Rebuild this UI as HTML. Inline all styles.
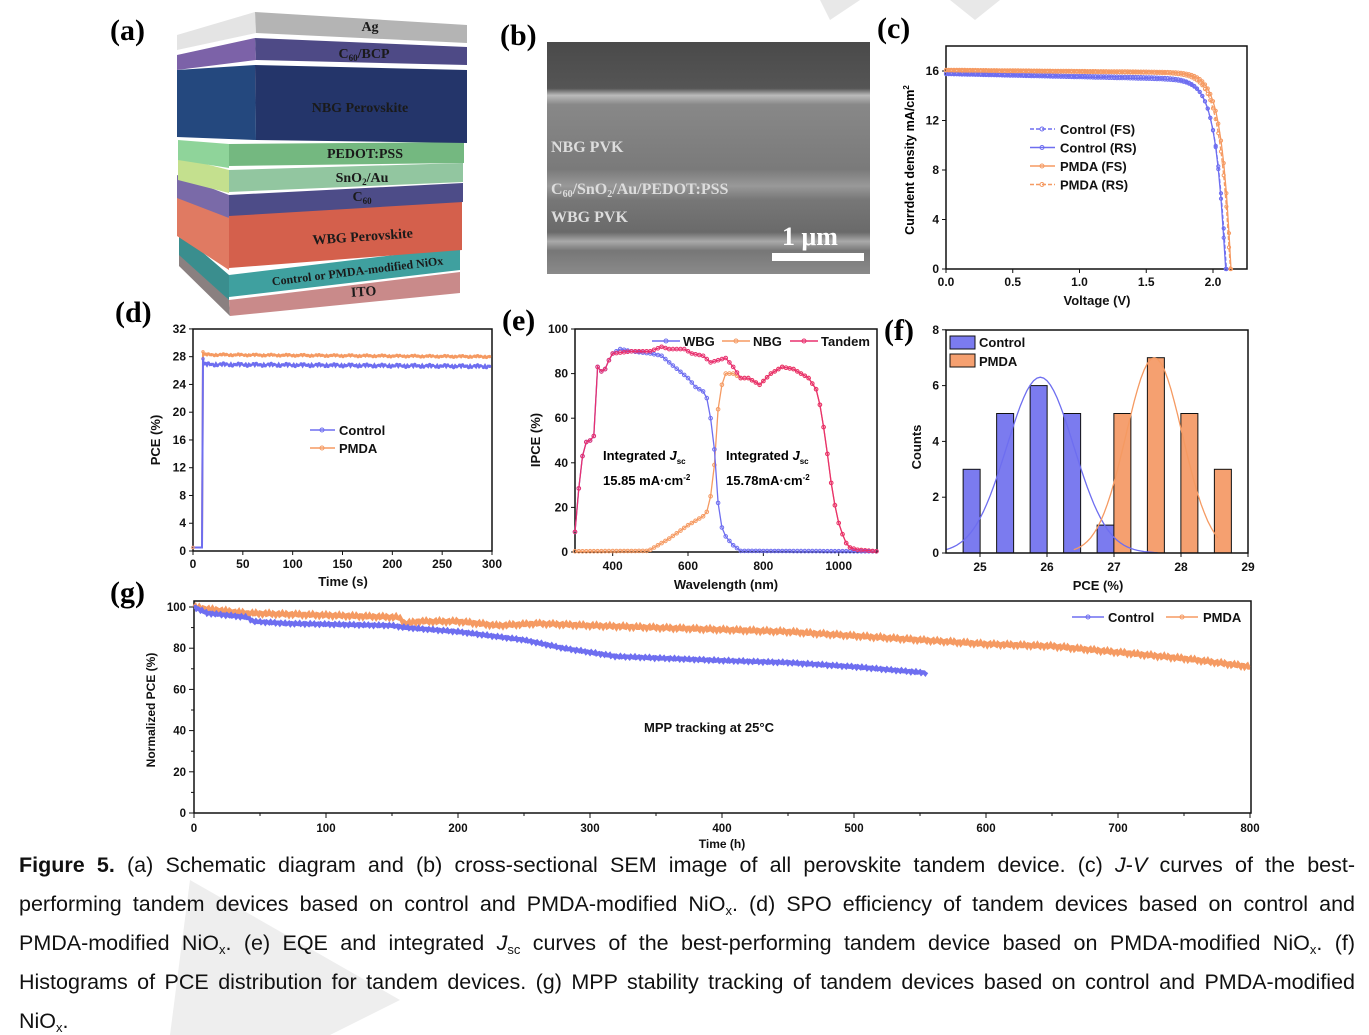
<!DOCTYPE html>
<html><head><meta charset="utf-8">
<style>
html,body{margin:0;padding:0;background:#fff;}
#wrap{position:relative;width:1369px;height:1035px;overflow:hidden;}
svg{position:absolute;left:0;top:0;}
.sans{font-family:"Liberation Sans",Arial,sans-serif;}
.serif{font-family:"Liberation Serif","Times New Roman",serif;}
.cap{position:absolute;left:19px;width:1336px;top:846px;font-family:"Liberation Sans",Arial,sans-serif;font-size:21.5px;color:#111;}
.cap div{height:39px;line-height:39px;text-align:justify;text-align-last:justify;white-space:nowrap;}
.cap div.last{text-align-last:left;}
.cap sub{font-size:13px;line-height:0;vertical-align:-4px;}
</style></head>
<body><div id="wrap">
<svg id="s" width="1369" height="1035" viewBox="0 0 1369 1035" xmlns="http://www.w3.org/2000/svg">
<polygon points="820,0 860,0 830,20" fill="#e8e8e8"/>
<polygon points="950,0 1000,0 975,20" fill="#e8e8e8"/>
<polygon points="190,880 400,1000 330,1035 170,1035" fill="#eeeeee"/>
<g class="serif" font-weight="bold">
<text class="serif" x="110" y="40" font-size="30">(a)</text>
<polygon points="179,250 229,300 230,316 179,266" fill="#8a8080"/>
<polygon points="229,300 460,272 460,293 230,316" fill="#c98a8a"/>
<polygon points="179,232 229,275 229,300 179,255" fill="#3a8e8e"/>
<polygon points="229,275 460,247 460,270 229,297" fill="#3fa09f"/>
<polygon points="177,190 229,218 229,270 177,236" fill="#e07a62"/>
<polygon points="229,206 462,201 462,250 229,268" fill="#d4604c"/>
<polygon points="177,175 229,195 229,218 177,198" fill="#7a6aa8"/>
<polygon points="229,195 463,183 463,202 229,216" fill="#4d4c88"/>
<polygon points="178,157 229,170 229,193 178,180" fill="#c4e08e"/>
<polygon points="229,170 463,163 463,182 229,192" fill="#92c6a0"/>
<polygon points="178,140 229,144 229,168 178,160" fill="#8fd49a"/>
<polygon points="229,144 464,142 464,163 229,166" fill="#74b880"/>
<polygon points="177,70 255,65 256,140 177,137" fill="#24487e"/>
<polygon points="255,65 467,70 467,143 256,140" fill="#24356a"/>
<polygon points="177,55 255,38 256,60 177,70" fill="#7c62a8"/>
<polygon points="255,38 467,47 467,65 256,60" fill="#4e4a86"/>
<polygon points="177,35 255,12 256,33 177,50" fill="#e4e4e4"/>
<polygon points="255,12 467,25 467,43 256,33" fill="#b4b4b4"/>
<g fill="#1a1a1a" text-anchor="middle">
<text class="serif" x="370" y="31" font-size="14">Ag</text>
<text class="serif" x="364" y="58" font-size="14">C<tspan font-size="9" dy="3">60</tspan><tspan dy="-3">/BCP</tspan></text>
<text class="serif" x="360" y="112" font-size="14">NBG Perovskite</text>
<text class="serif" x="365" y="158" font-size="14">PEDOT:PSS</text>
<text class="serif" x="362" y="182" font-size="14">SnO<tspan font-size="9" dy="3">2</tspan><tspan dy="-3">/Au</tspan></text>
<text class="serif" x="362" y="201" font-size="14">C<tspan font-size="9" dy="3">60</tspan></text>
<text class="serif" x="363" y="241" font-size="14" transform="rotate(-4 363 241)">WBG Perovskite</text>
<text class="serif" x="358" y="275" font-size="12" transform="rotate(-7 358 275)">Control or PMDA-modified NiOx</text>
<text class="serif" x="364" y="296" font-size="14" transform="rotate(-4 364 296)">ITO</text>
</g>
<text class="serif" x="500" y="45" font-size="30">(b)</text>
<text class="serif" x="877" y="38" font-size="30">(c)</text>
<text class="serif" x="115" y="322" font-size="30">(d)</text>
<text class="serif" x="502" y="330" font-size="30">(e)</text>
<text class="serif" x="884" y="340" font-size="30">(f)</text>
<text class="serif" x="110" y="602" font-size="30">(g)</text>
</g>
<defs>
<linearGradient id="sem" x1="0" y1="0" x2="0" y2="1">
<stop offset="0" stop-color="#4a4a4a"/><stop offset="0.2" stop-color="#555"/>
<stop offset="0.23" stop-color="#bbb"/><stop offset="0.27" stop-color="#888"/>
<stop offset="0.55" stop-color="#7a7a7a"/><stop offset="0.62" stop-color="#999"/>
<stop offset="0.68" stop-color="#777"/><stop offset="0.82" stop-color="#6a6a6a"/>
<stop offset="0.86" stop-color="#aaa"/><stop offset="0.9" stop-color="#777"/><stop offset="1" stop-color="#8a8a8a"/>
</linearGradient>
</defs>
<rect x="547" y="42" width="323" height="232" fill="url(#sem)"/>
<g font-weight="bold" fill="#ddd" font-size="16">
<text class="serif" x="551" y="152">NBG PVK</text>
<text class="serif" x="551" y="194">C<tspan font-size="10" dy="3">60</tspan><tspan dy="-3">/SnO</tspan><tspan font-size="10" dy="3">2</tspan><tspan dy="-3">/Au/PEDOT:PSS</tspan></text>
<text class="serif" x="551" y="222">WBG PVK</text>
<text class="serif" x="782" y="245" font-size="26" fill="#fff">1 μm</text>
</g>
<rect x="772" y="253" width="92" height="8" fill="#fff"/>
<g id="plots"></g>
</svg>
<div class="cap">
<div><b>Figure 5.</b> (a) Schematic diagram and (b) cross-sectional SEM image of all perovskite tandem device. (c) <i>J</i>-<i>V</i> curves of the best-</div>
<div>performing tandem devices based on control and PMDA-modified NiO<sub>x</sub>. (d) SPO efficiency of tandem devices based on control and</div>
<div>PMDA-modified NiO<sub>x</sub>. (e) EQE and integrated <i>J</i><sub>sc</sub> curves of the best-performing tandem device based on PMDA-modified NiO<sub>x</sub>. (f)</div>
<div>Histograms of PCE distribution for tandem devices. (g) MPP stability tracking of tandem devices based on control and PMDA-modified</div>
<div class="last">NiO<sub>x</sub>.</div>
</div>
</div>
<script>
var out='';
var B='#6e6ef0',O='#f59a62',P='#e8306e';
function T(x,y,s,o){o=o||{};return '<text class="sans" x="'+x+'" y="'+y+'" font-size="'+(o.fs||12)+'" font-weight="bold" text-anchor="'+(o.a||'middle')+'"'+(o.tr?' transform="'+o.tr+'"':'')+' fill="#111">'+s+'</text>';}
function path(pts,c,w,d){return '<path d="M'+pts.map(function(p){return p[0].toFixed(1)+','+p[1].toFixed(1)}).join('L')+'" fill="none" stroke="'+c+'" stroke-width="'+(w||1.3)+'"'+(d?' stroke-dasharray="'+d+'"':'')+'/>';}
function marks(pts,c,r){var s='';pts.forEach(function(p){s+='<circle cx="'+p[0].toFixed(1)+'" cy="'+p[1].toFixed(1)+'" r="'+(r||2)+'" fill="none" stroke="'+c+'" stroke-width="1"/>';});return s;}
function interp(tab,x){for(var i=0;i<tab.length-1;i++){if(x<=tab[i+1][0]){var t=(x-tab[i][0])/(tab[i+1][0]-tab[i][0]);return tab[i][1]+t*(tab[i+1][1]-tab[i][1]);}}return tab[tab.length-1][1];}
// (c)
(function(){
 var fx=function(v){return 946+v*133.5},fy=function(j){return 269-j*12.375};
 out+='<rect x="946" y="46" width="301" height="223" fill="none" stroke="#111" stroke-width="1.5"/>';
 [0,0.5,1,1.5,2].forEach(function(v){var X=fx(v);out+='<line x1="'+X+'" y1="269" x2="'+X+'" y2="273" stroke="#111"/>'+T(X,286,v.toFixed(1));});
 [0,4,8,12,16].forEach(function(v){var Y=fy(v);out+='<line x1="946" y1="'+Y+'" x2="942" y2="'+Y+'" stroke="#111"/>'+T(939,Y+4,v,{a:'end'});});
 out+=T(1097,305,'Voltage (V)',{fs:13});
 out+='<text class="sans" x="914" y="160" font-size="12.5" font-weight="bold" text-anchor="middle" transform="rotate(-90 914 160)">Currdent density mA/cm<tspan font-size="8" dy="-5">2</tspan></text>';
 function cur(js,voc,a,sl){var p=[];for(var v=0;v<=voc+0.001;v+=0.02){var j=js*(1-Math.exp((v-voc)/a))-sl*v;if(j<0)j=0;p.push([fx(v),fy(j)]);}p.push([fx(voc),fy(0)]);return p;}
 var c1=cur(15.8,2.10,0.075,0.2),c2=cur(15.75,2.095,0.07,0.25),p1=cur(16.1,2.135,0.07,0.1),p2=cur(16.05,2.13,0.075,0.12);
 out+=path(c1,B,1.3,'4,2')+marks(c1,B,1.6)+path(c2,B)+marks(c2,B,1.6)+path(p1,O)+marks(p1,O,1.6)+path(p2,O,1.3,'4,2')+marks(p2,O,1.6);
 var L=[['Control (FS)',B,'4,2'],['Control (RS)',B,''],['PMDA (FS)',O,''],['PMDA (RS)',O,'4,2']];
 L.forEach(function(l,i){var y=129+i*18.5;out+='<line x1="1030" y1="'+y+'" x2="1055" y2="'+y+'" stroke="'+l[1]+'" stroke-width="1.5"'+(l[2]?' stroke-dasharray="'+l[2]+'"':'')+'/><circle cx="1042" cy="'+y+'" r="2" fill="none" stroke="'+l[1]+'"/>'+T(1060,y+5,l[0],{a:'start',fs:13});});
})();
// (d)
(function(){
 var fx=function(v){return 193+v*0.9967},fy=function(v){return 551-v*6.94};
 out+='<rect x="193" y="329" width="299" height="222" fill="none" stroke="#111" stroke-width="1.5"/>';
 [0,50,100,150,200,250,300].forEach(function(v){var X=fx(v);out+='<line x1="'+X+'" y1="551" x2="'+X+'" y2="555" stroke="#111"/>'+T(X,568,v);});
 for(var v=0;v<=32;v+=4){var Y=fy(v);out+='<line x1="193" y1="'+Y+'" x2="189" y2="'+Y+'" stroke="#111"/>'+T(186,Y+4,v,{a:'end'});}
 out+=T(343,586,'Time (s)',{fs:13});
 out+=T(160,440,'PCE (%)',{fs:13,tr:'rotate(-90 160 440)'});
 function s(base,amp,top){var p=[[fx(0),fy(0.5)],[fx(9),fy(0.5)],[fx(10),fy(top)]];for(var t=11;t<=300;t+=1.5){p.push([fx(t),fy(base+amp*Math.sin(t*1.7)-t*0.001)]);}return p;}
 var a=s(26.9,0.2,27.7),b=s(28.3,0.12,28.7);
 out+=path(b,O,2)+path(a,B,2)+marks(a.filter(function(_,i){return i%2==0}),B,1.2)+marks(b.filter(function(_,i){return i%2==0}),O,1.2);
 out+='<line x1="310" y1="430" x2="335" y2="430" stroke="'+B+'" stroke-width="1.5"/><circle cx="322" cy="430" r="2" fill="none" stroke="'+B+'"/>'+T(339,435,'Control',{a:'start',fs:13});
 out+='<line x1="310" y1="448" x2="335" y2="448" stroke="'+O+'" stroke-width="1.5"/><circle cx="322" cy="448" r="2" fill="none" stroke="'+O+'"/>'+T(339,453,'PMDA',{a:'start',fs:13});
})();
// (e)
(function(){
 var fx=function(v){return 575+(v-300)*0.3767},fy=function(v){return 552-v*2.23};
 out+='<rect x="575" y="329" width="302" height="223" fill="none" stroke="#111" stroke-width="1.5"/>';
 [400,600,800,1000].forEach(function(v){var X=fx(v);out+='<line x1="'+X+'" y1="552" x2="'+X+'" y2="556" stroke="#111"/>'+T(X,570,v);});
 for(var v=0;v<=100;v+=20){var Y=fy(v);out+='<line x1="575" y1="'+Y+'" x2="571" y2="'+Y+'" stroke="#111"/>'+T(568,Y+4,v,{a:'end'});}
 out+=T(726,589,'Wavelength (nm)',{fs:13});
 out+=T(540,440,'IPCE (%)',{fs:13,tr:'rotate(-90 540 440)'});
 var W=[[300,9],[305,20],[315,37],[325,49],[340,50],[350,52],[360,83],[370,81],[380,82],[390,86],[400,89],[420,91],[450,90],[500,89],[530,88],[550,85],[600,78],[620,74],[640,72],[650,69],[660,60],[670,46],[680,22],[690,11],[700,7],[720,3],[740,0.5],[1100,0.3]];
 var tail=[[740,78],[760,78],[790,75],[820,80],[850,83],[880,82],[920,78],[940,73],[950,66],[960,56],[970,44],[980,31],[990,21],[1000,13],[1010,8],[1020,4],[1030,2],[1050,1],[1100,0.3]];
 var N=[[300,0.3],[490,0.5],[500,1],[550,6],[600,12],[640,16],[650,18],[660,25],[670,39],[680,64],[690,75],[700,80],[720,80]].concat(tail);
 var Tt=W.slice(0,11).concat([[450,90],[500,90],[530,92],[550,91],[590,91],[610,89],[640,88],[660,85],[680,86],[700,87],[720,83]]).concat(tail);
 function gen(tab){var p=[];for(var x=300;x<=1100;x+=10)p.push([fx(x),fy(interp(tab,x))]);return p;}
 var w=gen(W),n=gen(N),t=gen(Tt);
 out+=path(n,O)+marks(n,O,1.8)+path(w,B)+marks(w,B,1.8)+path(t,P)+marks(t,P,1.8);
 var L=[['WBG',B,652],['NBG',O,722],['Tandem',P,790]];
 L.forEach(function(l){out+='<line x1="'+l[2]+'" y1="341" x2="'+(l[2]+28)+'" y2="341" stroke="'+l[1]+'" stroke-width="1.5"/><circle cx="'+(l[2]+14)+'" cy="341" r="2" fill="none" stroke="'+l[1]+'"/>'+T(l[2]+31,346,l[0],{a:'start',fs:13});});
 out+='<text class="sans" x="603" y="460" font-size="13" font-weight="bold">Integrated <tspan font-style="italic">J</tspan><tspan font-size="8" dy="4">sc</tspan></text>';
 out+='<text class="sans" x="603" y="485" font-size="13" font-weight="bold">15.85 mA·cm<tspan font-size="8" dy="-5">-2</tspan></text>';
 out+='<text class="sans" x="726" y="460" font-size="13" font-weight="bold">Integrated <tspan font-style="italic">J</tspan><tspan font-size="8" dy="4">sc</tspan></text>';
 out+='<text class="sans" x="726" y="485" font-size="13" font-weight="bold">15.78mA·cm<tspan font-size="8" dy="-5">-2</tspan></text>';
})();
// (f)
(function(){
 var fx=function(v){return 980+(v-25)*67},fy=function(v){return 553-v*27.9};
 [[24.875,3],[25.375,5],[25.875,6],[26.375,5],[26.875,1]].forEach(function(b){out+='<rect x="'+(fx(b[0])-8.5)+'" y="'+fy(b[1])+'" width="17" height="'+(553-fy(b[1]))+'" fill="#7b7bef" stroke="#111" stroke-width="1"/>';});
 [[27.125,5],[27.625,7],[28.125,5],[28.625,3]].forEach(function(b){out+='<rect x="'+(fx(b[0])-8.5)+'" y="'+fy(b[1])+'" width="17" height="'+(553-fy(b[1]))+'" fill="#f5a070" stroke="#111" stroke-width="1"/>';});
 var g1=[],g2=[];for(var x=24.5;x<=29;x+=0.05){var y1=6.3*Math.exp(-Math.pow(x-25.9,2)/(2*0.5*0.5));var y2=7.0*Math.exp(-Math.pow(x-27.6,2)/(2*0.42*0.42));if(x<27.7)g1.push([fx(x),fy(y1)]);if(x>26.4&&x<28.6)g2.push([fx(x),fy(y2)]);}
 out+=path(g1,B,1.3)+path(g2,O,1.3);
 out+='<rect x="946" y="330" width="302" height="223" fill="none" stroke="#111" stroke-width="1.5"/>';
 [25,26,27,28,29].forEach(function(v){var X=fx(v);out+='<line x1="'+X+'" y1="553" x2="'+X+'" y2="557" stroke="#111"/>'+T(X,571,v);});
 for(var v=0;v<=8;v+=2){var Y=fy(v);out+='<line x1="946" y1="'+Y+'" x2="942" y2="'+Y+'" stroke="#111"/>'+T(939,Y+4,v,{a:'end'});}
 out+=T(1098,590,'PCE (%)',{fs:13});
 out+=T(921,447,'Counts',{fs:13,tr:'rotate(-90 921 447)'});
 out+='<rect x="950" y="336" width="25" height="13" fill="#7b7bef" stroke="#111"/>'+T(979,347,'Control',{a:'start',fs:13});
 out+='<rect x="950" y="354" width="25" height="13" fill="#f5a070" stroke="#111"/>'+T(979,366,'PMDA',{a:'start',fs:13});
})();
// (g)
(function(){
 var fx=function(v){return 194+v*1.32},fy=function(v){return 813-v*2.06};
 out+='<rect x="194" y="601" width="1057" height="212" fill="none" stroke="#111" stroke-width="1.5"/>';
 for(var v=0;v<=800;v+=100){var X=fx(v);out+='<line x1="'+X+'" y1="813" x2="'+X+'" y2="818" stroke="#111"/>'+T(X,832,v,{fs:11.5});if(v<800)out+='<line x1="'+fx(v+50)+'" y1="813" x2="'+fx(v+50)+'" y2="816" stroke="#111"/>';}
 for(var v=0;v<=100;v+=20){var Y=fy(v);out+='<line x1="194" y1="'+Y+'" x2="189" y2="'+Y+'" stroke="#111"/>'+T(186,Y+4,v,{a:'end',fs:11.5});if(v<100)out+='<line x1="194" y1="'+fy(v+10)+'" x2="191" y2="'+fy(v+10)+'" stroke="#111"/>';}
 out+=T(722,848,'Time (h)',{fs:12});
 out+=T(155,710,'Normalized PCE (%)',{fs:12,tr:'rotate(-90 155 710)'});
 var C=[[0,100],[10,97],[40,95],[45,93],[70,92],[150,91],[160,90],[200,88],[250,84],[280,80],[320,76],[360,75],[400,74],[450,73],[500,71],[555,68]];
 var Pm=[[0,100],[10,99],[40,97],[100,96],[155,95],[160,92],[170,93],[200,93],[230,91],[260,92],[300,91],[400,89],[450,88],[500,86],[550,84],[600,82],[650,81],[700,78],[750,75],[800,71]];
 var a=[],b=[];for(var t=0;t<=555;t+=1)a.push([fx(t),fy(interp(C,t)+0.5*Math.sin(t*2.3))]);for(var t=0;t<=800;t+=1)b.push([fx(t),fy(interp(Pm,t)+0.8*Math.sin(t*1.9))]);
 out+=path(b,O,4)+path(a,B,4);
 out+=T(709,732,'MPP tracking at 25°C',{fs:13});
 out+='<line x1="1072" y1="617" x2="1104" y2="617" stroke="'+B+'" stroke-width="1.5"/><circle cx="1088" cy="617" r="2" fill="none" stroke="'+B+'"/>'+T(1108,622,'Control',{a:'start',fs:13});
 out+='<line x1="1166" y1="617" x2="1198" y2="617" stroke="'+O+'" stroke-width="1.5"/><circle cx="1182" cy="617" r="2" fill="none" stroke="'+O+'"/>'+T(1203,622,'PMDA',{a:'start',fs:13});
})();
document.getElementById('plots').innerHTML=out;
</script>
</body></html>
